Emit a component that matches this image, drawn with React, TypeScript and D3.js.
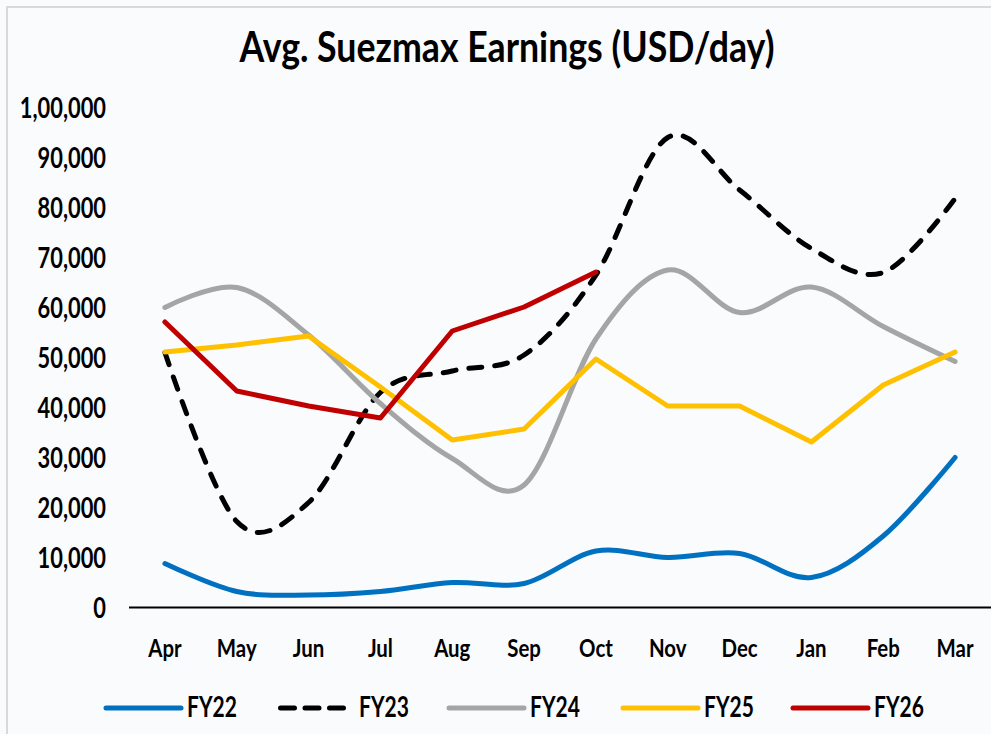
import React from "react";
import * as d3 from "d3";

const months = ["Apr", "May", "Jun", "Jul", "Aug", "Sep", "Oct", "Nov", "Dec", "Jan", "Feb", "Mar"];
const yTicks = [0, 10000, 20000, 30000, 40000, 50000, 60000, 70000, 80000, 90000, 100000];
const yTickLabels = ["0", "10,000", "20,000", "30,000", "40,000", "50,000", "60,000", "70,000", "80,000", "90,000", "1,00,000"];

const fy22 = [8800, 3200, 2500, 3200, 5000, 4800, 11300, 10000, 10800, 6000, 14300, 30000];
const fy23 = [51000, 17200, 21000, 43000, 47300, 50500, 66500, 94000, 83500, 71800, 67000, 81800];
const fy24 = [60000, 64000, 54500, 40800, 29800, 24500, 53700, 67500, 59000, 64100, 56200, 49200];
const fy25 = [51100, 52500, 54300, 44100, 33500, 35700, 49700, 40300, 40300, 33100, 44500, 51100];
const fy26 = [57100, 43300, 40300, 37900, 55300, 60100, 67100];

const seriesNames = ["FY22", "FY23", "FY24", "FY25", "FY26"];
const seriesValues = [fy22, fy23, fy24, fy25, fy26];
const seriesColors = ["#0070C0", "#000000", "#A5A5A5", "#FFC000", "#C00000"];
const seriesSmooth = [true, true, true, false, false];
const seriesDashed = [false, true, false, false, false];

const W = 991;
const H = 734;
const FONT = "Lato, 'Open Sans', sans-serif";

function T({ x, y, sx, size, anchor, children }: any) {
  return (
    <text
      transform={`translate(${x},${y}) scale(${sx},1)`}
      fontSize={size}
      textAnchor={anchor}
      fontFamily={FONT}
      fontWeight="bold"
      fill="#000"
    >
      {children}
    </text>
  );
}

export default function App() {
  const x = d3.scalePoint<string>().domain(months).range([129, 991]).padding(0.5);
  const y = d3.scaleLinear().domain([0, 100000]).range([607.5, 107.5]);

  const smoothLine = d3
    .line<number>()
    .x((_, i) => x(months[i]) as number)
    .y((d) => y(d))
    .curve(d3.curveCatmullRom.alpha(0));
  const straightLine = d3
    .line<number>()
    .x((_, i) => x(months[i]) as number)
    .y((d) => y(d))
    .curve(d3.curveLinear);

  const legendX = [106, 278, 449, 623, 793];

  return (
    <div style={{ position: "absolute", left: 0, top: 0, width: W, height: H }}>
      <svg width={W} height={H} style={{ display: "block" }}>
        <rect x={0} y={0} width={W} height={H} fill="#FAFBFD" />
        <rect x={7} y={7} width={W + 20} height={H + 20} fill="none" stroke="#D9D9D9" strokeWidth={2} />

        <text
          x={507}
          y={62}
          fontSize={42}
          textLength={535}
          lengthAdjust="spacingAndGlyphs"
          textAnchor="middle"
          fontFamily={FONT}
          fontWeight="bold"
          fill="#000"
        >
          Avg. Suezmax Earnings (USD/day)
        </text>

        {yTicks.map((t, i) => (
          <T key={t} x={106} y={y(t) + 10} sx={0.78} size={28} anchor="end">
            {yTickLabels[i]}
          </T>
        ))}

        {months.map((m) => (
          <T key={m} x={x(m)} y={657} sx={0.85} size={24} anchor="middle">
            {m}
          </T>
        ))}

        <line x1={129} x2={991} y1={y(0)} y2={y(0)} stroke="#000" strokeWidth={2} />

        {seriesValues.map((vals, i) => (
          <path
            key={seriesNames[i]}
            d={(seriesSmooth[i] ? smoothLine : straightLine)(vals) || ""}
            fill="none"
            stroke={seriesColors[i]}
            strokeWidth={5}
            strokeLinecap="round"
            strokeLinejoin="round"
            strokeDasharray={seriesDashed[i] ? "13 13" : undefined}
          />
        ))}

        {seriesNames.map((n, i) => (
          <g key={n}>
            <line
              x1={legendX[i] + (seriesDashed[i] ? 2.5 : 0)}
              x2={legendX[i] + (seriesDashed[i] ? 65.5 : 75)}
              y1={708}
              y2={708}
              stroke={seriesColors[i]}
              strokeWidth={5}
              strokeLinecap="round"
              strokeDasharray={seriesDashed[i] ? "14 10.5" : undefined}
            />
            <T x={legendX[i] + 81} y={717} sx={0.75} size={28} anchor="start">
              {n}
            </T>
          </g>
        ))}
      </svg>
    </div>
  );
}
